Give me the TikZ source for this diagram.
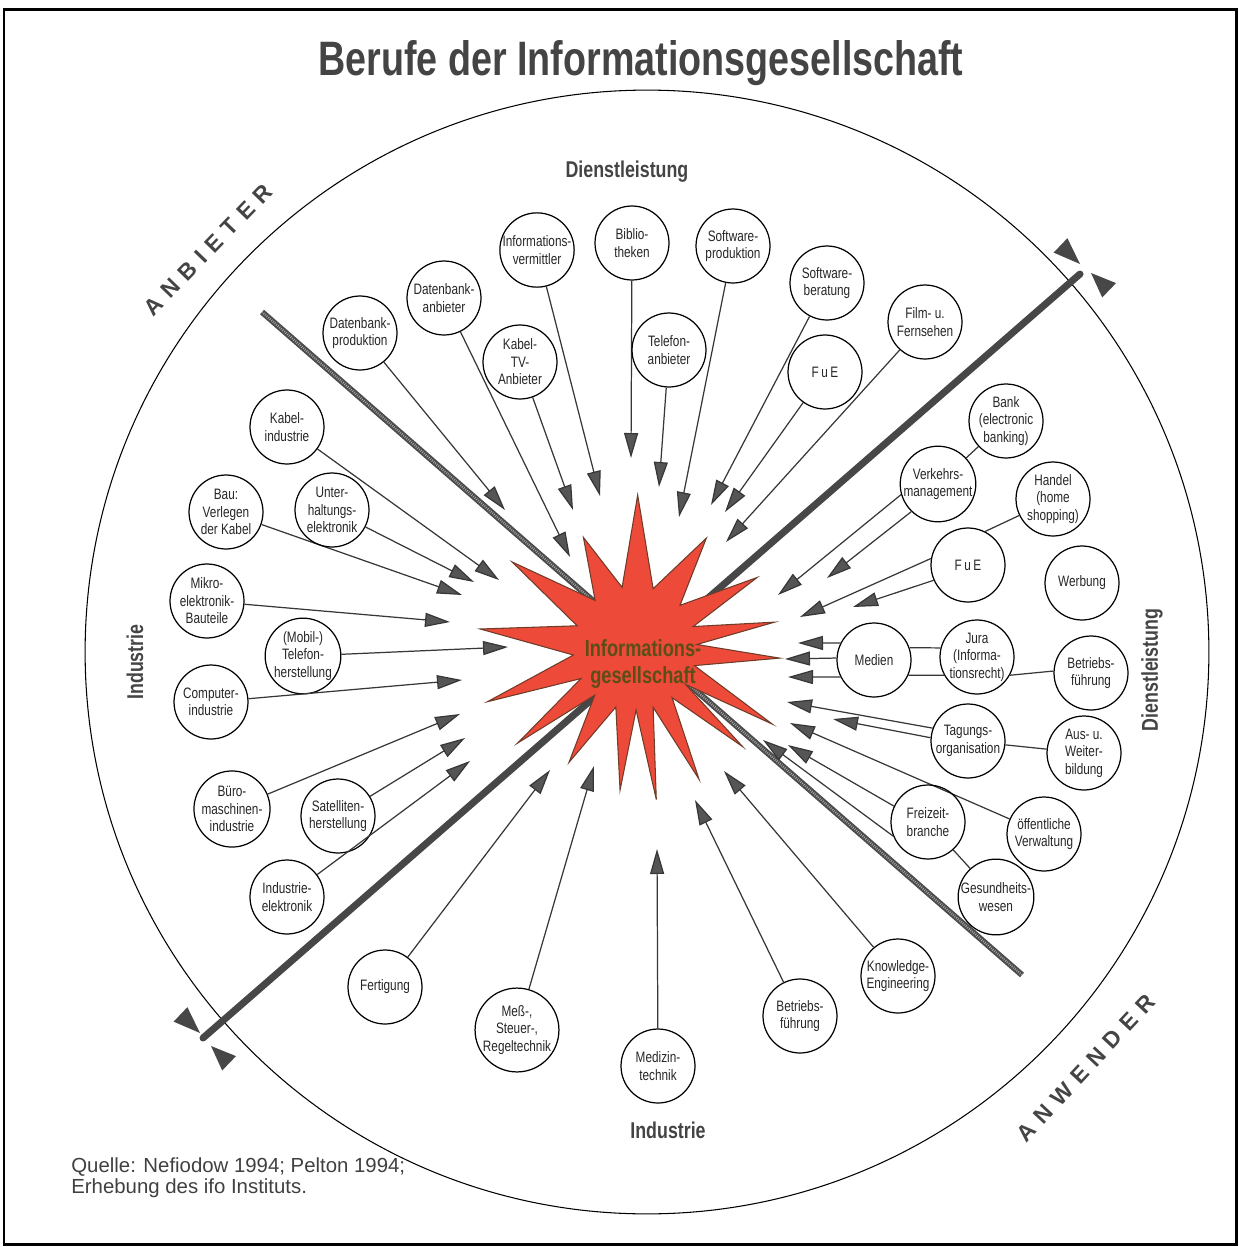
\documentclass[tikz,border=0pt]{standalone}
\usepackage{fontspec}
\setmainfont{Liberation Sans}
\newfontfamily\narrow[FakeStretch=0.78]{Liberation Sans}
\newfontfamily\spaced[LetterSpace=35]{Liberation Sans}
\usetikzlibrary{arrows.meta,positioning}

\definecolor{sternrot}{RGB}{238,74,58}
\definecolor{sternrand}{RGB}{110,60,40}
\definecolor{sternschrift}{RGB}{92,78,22}
\definecolor{strich}{RGB}{55,55,55}
\definecolor{spitze}{RGB}{85,85,85}
\definecolor{schrift}{RGB}{68,68,68}

\begin{document}
\begin{tikzpicture}[x=0.02cm,y=-0.02cm]

\tikzset{beruf/.style={circle, draw, line width=0.7pt, minimum size=1.48cm, inner sep=0pt,
    align=center, text=black!85, font=\narrow\fontsize{8.6}{10}\selectfont},
  pfeil/.style={draw=strich, line width=0.7pt, -{Triangle[length=0.5cm, width=0.28cm, fill=spitze]}},
  verbind/.style={draw=strich, line width=0.7pt},
  grenze/.style={draw=black!72, line width=0.14cm, line cap=round},
  schraffur/.style={draw=black!70, line width=0.12cm,
    postaction={draw=black!30, line width=0.045cm, dash pattern=on 0.4pt off 0.8pt}},
  marke/.style={fill=black!72},
  stern/.style={fill=sternrot, draw=sternrand, line width=0.6pt},
  titel/.style={text=schrift, font=\narrow\bfseries\fontsize{27.5}{30}\selectfont},
  bereich/.style={text=schrift, font=\narrow\bfseries\fontsize{13}{15}\selectfont},
  seite/.style={text=schrift, font=\spaced\bfseries\fontsize{13}{15}\selectfont},
  quelle/.style={text=black!75, align=left, inner sep=0pt, font=\fontsize{11.6}{12.2}\selectfont}}

\useasboundingbox (0,0) rectangle (1239,1247);
\draw[line width=0.06cm] (4,10) rectangle (1236,1244);

% outer circle and headings
\coordinate (mitte) at (647,652);
\draw[line width=0.6pt] (mitte) circle [radius=11.24cm];
\node[titel] (titel) at (641,63) {Berufe der Informationsgesellschaft};
\node[bereich] (dlo) at (627,172) {Dienstleistung};
\node[bereich] (indu) at (668,1130) {Industrie};
\node[bereich, rotate=90] (indl) at (135,662) {Industrie};
\node[bereich, rotate=90] (dlr) at (1152,670) {Dienstleistung};
\node[seite, rotate=46] (anb) at (208,250) {ANBIETER};
\node[seite, rotate=47] (anw) at (1086,1068) {ANWENDER};
\node[quelle, anchor=north west] (quelle) at (71,1157)
  {Quelle: Nefiodow 1994; Pelton 1994;\\Erhebung des ifo Instituts.};

% dividing lines
\coordinate (gl1) at (203,1038);
\coordinate (gl2) at (1080,274);
\coordinate (sl1) at (262,312);
\coordinate (sl2) at (1022,975);
\draw[schraffur] (sl1) -- (sl2);
\draw[grenze] (gl1) -- (gl2);
\fill[marke] (1080,264) -- (1053.6,252.6) -- (1067.4,238.2) -- cycle;
\fill[marke] (1091,273) -- (1102.2,297.5) -- (1116,283.1) -- cycle;
\fill[marke] (200,1033) -- (173.6,1021.6) -- (187.4,1007.2) -- cycle;
\fill[marke] (211,1046) -- (222.2,1070.5) -- (236,1056.1) -- cycle;

% star
\begin{scope}[shift={(635,648)}]
\filldraw[stern] (160:157) -- (150.5:62) -- (141:151) -- (130.5:62) -- (120:132) -- (108:62)
  -- (96:143) -- (89:62) -- (82:153) -- (73:62) -- (64:146) -- (53.25:62) -- (42.5:146)
  -- (35.75:62) -- (29:157) -- (16.5:62) -- (4:145) -- (-3.25:62) -- (-10.5:142)
  -- (-20.25:62) -- (-30:141) -- (-43.5:62) -- (-57:131) -- (-73:62) -- (-89:153)
  -- (-102:62) -- (-115:122) -- (-130:62) -- (-145:150) -- (-159:62) -- (-173:156)
  -- (-186.5:62) -- cycle;
\end{scope}
\node[align=center, text=sternschrift, font=\narrow\bfseries\fontsize{13.3}{15.4}\selectfont]
  (zentrum) at (643,664) {Informations-\\gesellschaft};

% nodes with one arrow
\foreach \n/\p/\t/\z in {
    dbprod/{360,333}/{Datenbank-\\produktion}/{505,510},
    dbanb/{444,298}/{Datenbank-\\anbieter}/{570,557},
    infov/{537,250}/{Informations-\\vermittler}/{600,496},
    biblio/{632,243}/{Biblio-\\theken}/{631,458},
    swprod/{733,246}/{Software-\\produktion}/{679,517},
    swber/{827,283}/{Software-\\beratung}/{711,505},
    film/{925,322}/{Film- u.\\Fernsehen}/{726,542},
    kabeltv/{520,362}/{Kabel-\\TV-\\Anbieter}/{573,510},
    telefon/{669,350}/{Telefon-\\anbieter}/{659,487},
    fueo/{825,372}/{F\,u\,E}/{725,512},
    kabelind/{287,427}/{Kabel-\\industrie}/{499,580},
    bau/{226,512}/{Bau:\\Verlegen\\der Kabel}/{462,595},
    unterh/{332,510}/{Unter-\\haltungs-\\elektronik}/{474,582},
    mikro/{207,601}/{Mikro-\\elektronik-\\Bauteile}/{450,622},
    mobil/{303,656}/{(Mobil-)\\Telefon-\\herstellung}/{508,647},
    computer/{211,702}/{Computer-\\industrie}/{462,680},
    buero/{232,809}/{Büro-\\maschinen-\\industrie}/{460,714},
    satell/{338,816}/{Satelliten-\\herstellung}/{465,738},
    indel/{287,897}/{Industrie-\\elektronik}/{470,761},
    fert/{385,987}/{Fertigung}/{550,770},
    mess/{517,1030}/{Meß-,\\Steuer-,\\Regeltechnik}/{594,766},
    medizin/{658,1066}/{Medizin-\\technik}/{657,849},
    betrieb/{800,1016}/{Betriebs-\\führung}/{695,800},
    knowledge/{898,976}/{Knowledge-\\Engineering}/{724,771},
    oev/{1044,834}/{öffentliche\\Verwaltung}/{790,723}} {
  \node[beruf] (\n) at (\p) {\t};
  \coordinate (\n-tip) at (\z);
  \draw[pfeil] (\n) -- (\n-tip);
}

% nodes on the right
\foreach \n/\p/\t in {
    bank/{1006,421}/{Bank\\(electronic\\banking)},
    verkehr/{938,484}/{Verkehrs-\\management},
    handel/{1053,499}/{Handel\\(home\\shopping)},
    fuer/{968,565}/{F\,u\,E},
    werbung/{1082,583}/{Werbung},
    medien/{874,660}/{Medien},
    jura/{977,657}/{Jura\\(Informa-\\tionsrecht)},
    betriebr/{1091,673}/{Betriebs-\\führung},
    tagung/{968,741}/{Tagungs-\\organisation},
    aus/{1084,753}/{Aus- u.\\Weiter-\\bildung},
    freizeit/{928,822}/{Freizeit-\\branche},
    gesund/{996,897}/{Gesundheits-\\wesen}}
  \node[beruf] (\n) at (\p) {\t};

\coordinate (v1) at (778,595);
\coordinate (v2) at (827,578);
\coordinate (f1) at (800,617);
\coordinate (f2) at (853,607);
\coordinate (m1) at (798,643);
\coordinate (m2) at (785,659);
\coordinate (m3) at (788,677);
\coordinate (t1) at (787,702);
\coordinate (t2) at (833,719);
\coordinate (z1) at (788,745);
\coordinate (z2) at (763,740);

\draw[pfeil] (verkehr.196) -- (v1);
\draw[pfeil] (verkehr.226) -- (v2);
\draw[pfeil] (fuer.170) -- (f1);
\draw[pfeil] (fuer.204) -- (f2);
\draw[pfeil] (medien.153) -- (m1);
\draw[pfeil] (medien.177) -- (m2);
\draw[pfeil] (medien.207) -- (m3);
\draw[pfeil] (tagung.160) -- (t1);
\draw[pfeil] (tagung.175) -- (t2);
\draw[pfeil] (freizeit.155) -- (z1);
\draw[pfeil] (freizeit.202) -- (z2);

% plain links
\draw[verbind] (bank) -- (verkehr);
\draw[verbind] (handel.206) -- (fuer.63);
\draw[verbind] (medien.19) -- (jura.166);
\draw[verbind] (medien.-24) -- (jura.209);
\draw[verbind] (jura.-29) -- (betriebr.177);
\draw[verbind] (tagung) -- (aus);
\draw[verbind] (freizeit) -- (gesund);

\end{tikzpicture}
\end{document}
